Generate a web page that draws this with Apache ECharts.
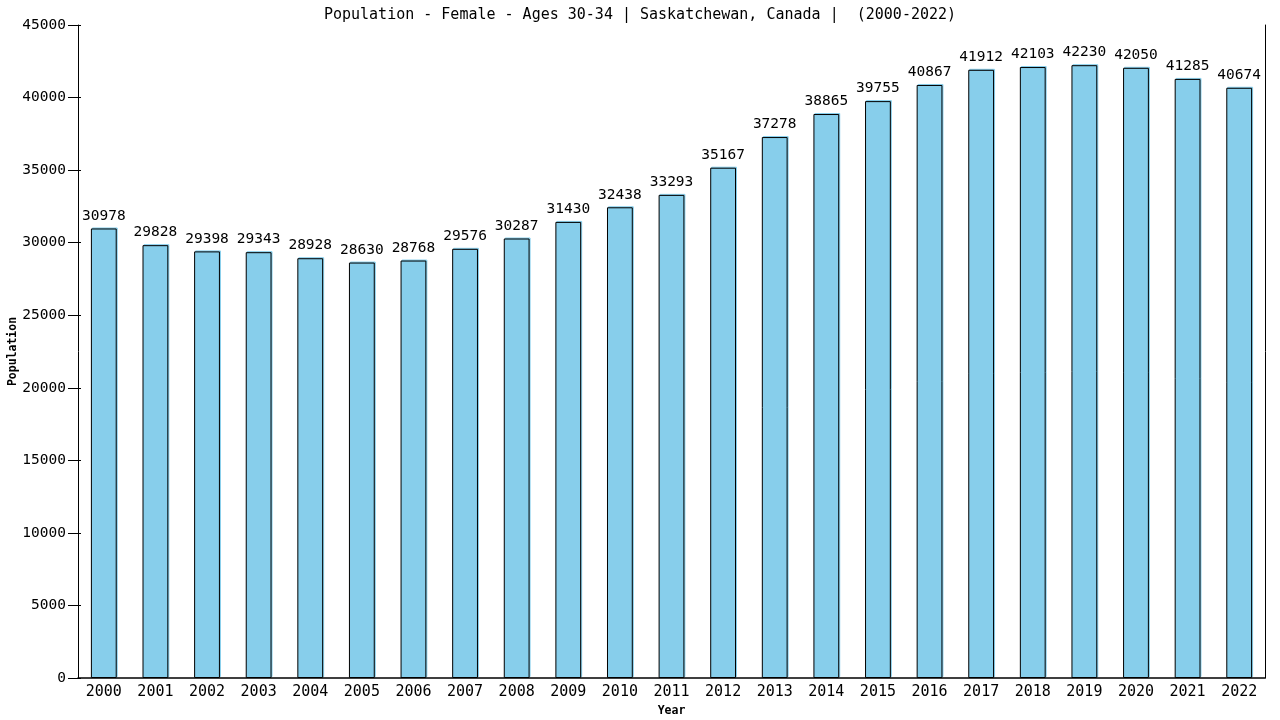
<!DOCTYPE html>
<html>
<head>
<meta charset="utf-8">
<script src="https://cdn.jsdelivr.net/npm/echarts@6/dist/echarts.min.js"></script>
<style>
html,body{margin:0;padding:0;background:#fff;}
#c{width:1280px;height:720px;}
</style>
</head>
<body>
<div id="c"></div>
<script>
const years = ['2000','2001','2002','2003','2004','2005','2006','2007','2008','2009','2010','2011','2012','2013','2014','2015','2016','2017','2018','2019','2020','2021','2022'];
const population = [30978,29828,29398,29343,28928,28630,28768,29576,30287,31430,32438,33293,35167,37278,38865,39755,40867,41912,42103,42230,42050,41285,40674];
const titleText = 'Population - Female - Ages 30-34 | Saskatchewan, Canada |  (2000-2022)';
const font = '"DejaVu Sans Mono", monospace';

const chart = echarts.init(document.getElementById('c'));
const yBase = {
  type: 'value', min: 0, max: 45000, interval: 5000,
  splitLine: {show: false}
};
chart.setOption({
  animation: false,
  backgroundColor: '#ffffff',
  title: {
    text: titleText,
    left: 'center', top: 3,
    textStyle: {fontFamily: font, fontSize: 15, fontWeight: 'normal', color: '#000'}
  },
  grid: {left: 78, right: 15, top: 25, bottom: 42, show: false, containLabel: false, outerBoundsMode: 'none'},
  xAxis: {
    type: 'category',
    data: years,
    position: 'bottom',
    name: 'Year',
    nameLocation: 'middle',
    nameGap: 27,
    nameMoveOverlap: false,
    nameTextStyle: {fontFamily: font, fontSize: 11.5, fontWeight: 'bold', color: '#000'},
    axisLine: {show: true, onZero: false, lineStyle: {color: '#000', width: 1.5}},
    axisTick: {show: false},
    axisLabel: {fontFamily: font, fontSize: 15, color: '#000', margin: 7},
    splitLine: {show: false}
  },
  yAxis: [
    Object.assign({}, yBase, {
      position: 'left',
      name: 'Population',
      nameLocation: 'middle',
      nameGap: 59,
      nameMoveOverlap: false,
      nameTextStyle: {fontFamily: font, fontSize: 11.5, fontWeight: 'bold', color: '#000'},
      axisLine: {show: true, onZero: false, lineStyle: {color: '#000', width: 1}},
      axisTick: {show: true, length: 10, lineStyle: {color: '#000'}},
      axisLabel: {fontFamily: font, fontSize: 14.5, color: '#000', margin: 12, formatter: v => String(v)}
    }),
    Object.assign({}, yBase, {
      position: 'left',
      offset: 0,
      axisLine: {show: false},
      axisTick: {show: true, inside: true, length: 3, lineStyle: {color: '#000'}},
      axisLabel: {show: false}
    }),
    Object.assign({}, yBase, {
      position: 'right',
      axisLine: {show: true, onZero: false, lineStyle: {color: '#000', width: 1}},
      axisTick: {show: false},
      axisLabel: {show: false}
    })
  ],
  series: [{
    type: 'bar',
    data: population,
    barWidth: '50%',
    itemStyle: {
      color: '#87CEEB', borderColor: '#000', borderWidth: 1,
      shadowColor: '#87CEEB', shadowBlur: 0, shadowOffsetX: 1, shadowOffsetY: -1
    },
    label: {
      show: true, position: 'top', distance: 5,
      fontFamily: font, fontSize: 14.5, color: '#000'
    }
  }]
});
</script>
</body>
</html>
